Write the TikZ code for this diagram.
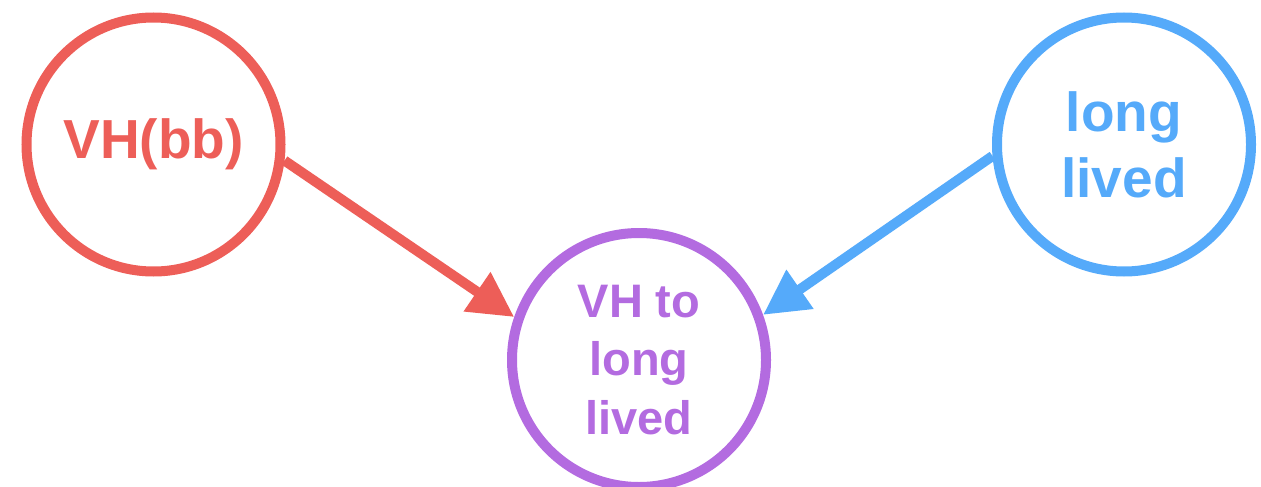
\documentclass[tikz,border=0pt]{standalone}
\usepackage{fontspec}
\setmainfont{Liberation Sans}
\usetikzlibrary{arrows.meta}
\definecolor{cred}{RGB}{237,94,88}
\definecolor{cblue}{RGB}{85,170,250}
\definecolor{cpurple}{RGB}{179,107,224}
\tikzset{
  ring/.style={circle, draw=#1, text=#1, line width=10pt, minimum size=254pt, inner sep=0pt, align=center, font=\bfseries\fontsize{55}{66}\selectfont},
  conn/.style={draw=#1, line width=10pt, -{Triangle[length=45pt,width=45pt]}, fill=#1}
}
\begin{document}
\begin{tikzpicture}[x=1pt,y=-1pt]
\useasboundingbox (0,0) rectangle (1261,487);
\node[ring=cred] (vhbb) at (153.5,144.5) {VH(bb)};
\node[ring=cblue] (ll) at (1124,144.5) {long\\lived};
\node[ring=cpurple, font=\bfseries\fontsize{47}{58.5}\selectfont] (vhl) at (639,360) {VH to\\long\\lived};
\draw[conn=cred] (vhbb.-7) -- (vhl.161);
\draw[conn=cblue] (ll.185.5) -- (vhl.20);
\end{tikzpicture}
\end{document}
